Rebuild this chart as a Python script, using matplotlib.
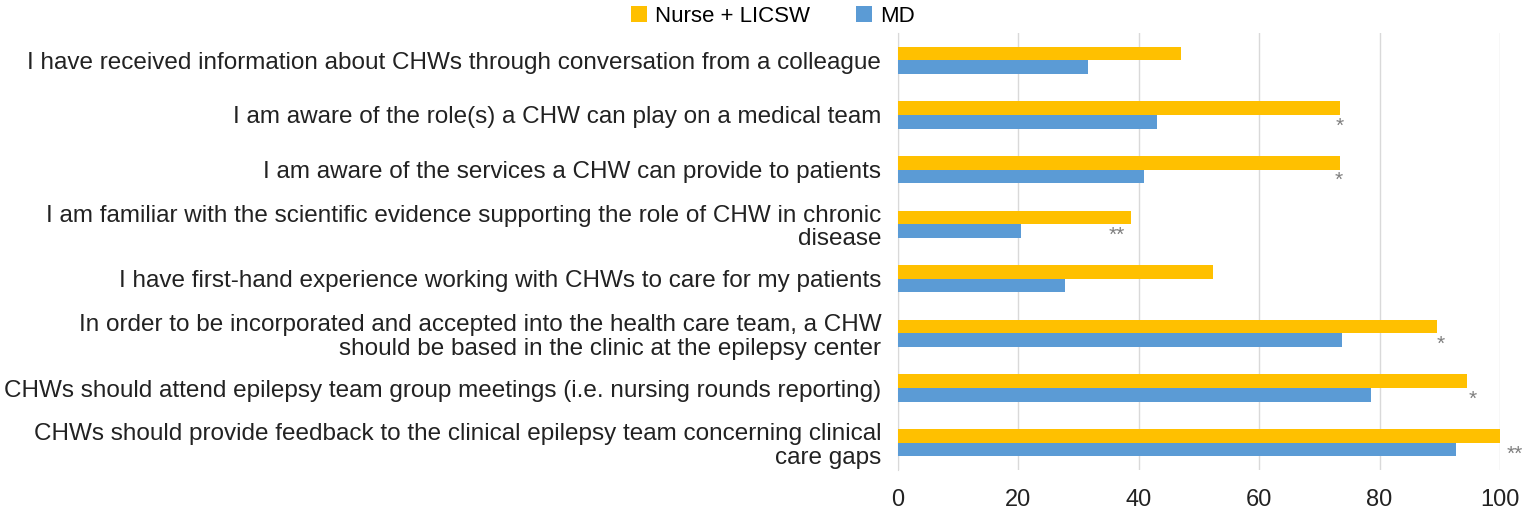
import matplotlib
matplotlib.use("Agg")
import matplotlib.pyplot as plt
import numpy as np

categories = [
    "I have received information about CHWs through conversation from a colleague",
    "I am aware of the role(s) a CHW can play on a medical team",
    "I am aware of the services a CHW can provide to patients",
    "I am familiar with the scientific evidence supporting the role of CHW in chronic\ndisease",
    "I have first-hand experience working with CHWs to care for my patients",
    "In order to be incorporated and accepted into the health care team, a CHW\nshould be based in the clinic at the epilepsy center",
    "CHWs should attend epilepsy team group meetings (i.e. nursing rounds reporting)",
    "CHWs should provide feedback to the clinical epilepsy team concerning clinical\ncare gaps",
]
nurse = [47.0, 73.5, 73.5, 38.7, 52.4, 89.5, 94.6, 100.0]
md = [31.6, 43.1, 40.8, 20.4, 27.7, 73.8, 78.5, 92.7]
sig = ["", "*", "*", "**", "", "*", "*", "**"]
sig_x = [0, 73.3, 73.2, 36.4, 0, 90.2, 95.5, 102.5]
xticks = [0, 20, 40, 60, 80, 100]

plt.rcParams['font.family'] = ['Liberation Sans Narrow', 'Liberation Sans', 'DejaVu Sans']

fig = plt.figure(figsize=(15.35, 5.17), dpi=100)
ax = fig.add_axes([898/1535, 1-470/517, (1500-898)/1535, (470-33)/517])

y = np.arange(len(categories))
h = 0.25
gold = "#FFC000"
blue = "#5B9BD5"
ax.barh(y - h/2, nurse, height=h, color=gold, label="Nurse + LICSW", zorder=3)
ax.barh(y + h/2, md, height=h, color=blue, label="MD", zorder=3)

for yi, s, sx in zip(y, sig, sig_x):
    if s:
        ax.text(sx, yi + h/2 + 0.08, s, ha="center", va="center", fontsize=15,
                color="#7F7F7F", zorder=4, clip_on=False)

ax.set_xlim(0, 100)
ax.set_ylim(len(categories) - 0.5, -0.5)
ax.set_xticks(xticks)
ax.set_xticklabels([str(t) for t in xticks], fontsize=17, color="#222222")
ax.set_yticks(y)
ax.set_yticklabels(categories, fontsize=17.5, color="#222222", linespacing=1.1)
ax.tick_params(axis="both", length=0)
ax.tick_params(axis="x", pad=14)
ax.tick_params(axis="y", pad=12)
for lbl in ax.get_yticklabels():
    lbl.set_multialignment("right")
ax.grid(axis="x", color="#D9D9D9", linewidth=1, zorder=0)
for sp in ["top", "right", "bottom"]:
    ax.spines[sp].set_visible(False)
ax.spines["left"].set_color("#D9D9D9")

fig.legend(loc="center", bbox_to_anchor=(773/1535, 1-16/517), ncol=2, frameon=False,
           fontsize=16, handlelength=0.7, handleheight=0.7, handletextpad=0.35,
           columnspacing=2.1)

fig.savefig("out.png", dpi=100)
